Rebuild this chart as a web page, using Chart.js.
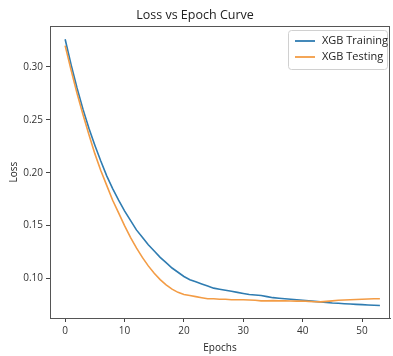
<!DOCTYPE html>
<html>
<head>
<meta charset="utf-8">
<script src="https://cdn.jsdelivr.net/npm/chart.js@4.4.1/dist/chart.umd.min.js"></script>
<style>
html,body{margin:0;padding:0;background:#fff;}
#wrap{width:393px;height:356px;position:relative;}
</style>
</head>
<body>
<div id="wrap"><canvas id="c" width="393" height="356"></canvas></div>
<script>
const epochs = [0,1,2,3,4,5,6,7,8,9,10,11,12,13,14,15,16,17,18,19,20,21,22,23,24,25,26,27,28,29,30,31,32,33,34,35,36,37,38,39,40,41,42,43,44,45,46,47,48,49,50,51,52,53];
const trainLoss = [0.326,0.302,0.280,0.260,0.242,0.226,0.211,0.197,0.185,0.174,0.164,0.155,0.146,0.139,0.132,0.126,0.120,0.115,0.110,0.106,0.102,0.099,0.097,0.095,0.093,0.091,0.090,0.089,0.088,0.087,0.086,0.085,0.0845,0.084,0.083,0.082,0.0815,0.081,0.0805,0.080,0.0795,0.079,0.0785,0.078,0.0775,0.077,0.0767,0.0763,0.076,0.0757,0.0754,0.0751,0.0749,0.0746];
const testLoss = [0.320,0.297,0.275,0.255,0.236,0.218,0.202,0.188,0.174,0.162,0.150,0.139,0.129,0.120,0.112,0.105,0.099,0.094,0.090,0.087,0.085,0.084,0.083,0.082,0.081,0.081,0.0805,0.0805,0.080,0.080,0.080,0.0798,0.0795,0.079,0.079,0.0792,0.079,0.079,0.0788,0.0787,0.0788,0.0785,0.0782,0.078,0.0785,0.079,0.0795,0.0798,0.080,0.0802,0.0805,0.0807,0.081,0.081];
const yTicks = [0.10,0.15,0.20,0.25,0.30];
const xTicks = [0,10,20,30,40,50];
const seriesNames = ['XGB Training','XGB Testing'];
const seriesColors = ['#2f7cb1','#f39c45'];

const FONT = 'Open Sans';

const frame = {
  id:'frame',
  afterDatasetsDraw(chart){
    const a = chart.chartArea, ctx = chart.ctx;
    ctx.save();
    ctx.strokeStyle = '#555';
    ctx.lineWidth = 1;
    ctx.strokeRect(Math.round(a.left)+0.5, Math.round(a.top)+0.5, Math.round(a.right-a.left)-1, Math.round(a.bottom-a.top));
    ctx.restore();
  }
};

const innerLegend = {
  id:'innerLegend',
  afterDraw(chart){
    const ctx = chart.ctx, a = chart.chartArea;
    const ds = chart.data.datasets;
    const w = 99, h = 39;
    const x0 = a.right - w - 3, y0 = a.top + 4;
    ctx.save();
    ctx.beginPath();
    if (ctx.roundRect) ctx.roundRect(x0+0.5, y0+0.5, w, h, 3); else ctx.rect(x0+0.5,y0+0.5,w,h);
    ctx.fillStyle = 'rgba(255,255,255,0.85)';
    ctx.fill();
    ctx.strokeStyle = '#d0d0d0';
    ctx.lineWidth = 1;
    ctx.stroke();
    ctx.font = '11px "' + FONT + '"';
    ctx.textBaseline = 'middle';
    ds.forEach((d,i)=>{
      const yy = y0 + 11 + i*16;
      ctx.strokeStyle = d.borderColor;
      ctx.lineWidth = 1.8;
      ctx.beginPath();
      ctx.moveTo(x0+7, yy);
      ctx.lineTo(x0+27, yy);
      ctx.stroke();
      ctx.fillStyle = '#222';
      ctx.fillText(d.label, x0+34, yy);
    });
    ctx.restore();
  }
};

new Chart(document.getElementById('c'), {
  type:'line',
  data:{
    datasets:[
      {label:seriesNames[0], data:epochs.map((e,i)=>({x:e,y:trainLoss[i]})), borderColor:seriesColors[0], backgroundColor:seriesColors[0], borderWidth:1.6, pointRadius:0, tension:0, order:1},
      {label:seriesNames[1], data:epochs.map((e,i)=>({x:e,y:testLoss[i]})), borderColor:seriesColors[1], backgroundColor:seriesColors[1], borderWidth:1.6, pointRadius:0, tension:0, order:0}
    ]
  },
  options:{
    responsive:false,
    animation:false,
    devicePixelRatio:1,
    layout:{padding:{left:0,right:3,top:0,bottom:0}},
    plugins:{
      legend:{display:false},
      tooltip:{enabled:false},
      title:{display:true,text:'Loss vs Epoch Curve',color:'#222',font:{family:FONT,size:12.5,weight:'normal'},padding:{top:8,bottom:3}}
    },
    scales:{
      x:{
        type:'linear', min:-2.55, max:54.7,
        afterBuildTicks(s){ s.ticks = xTicks.map(v=>({value:v})); },
        afterFit(s){ s.height = 38; },
        grid:{drawOnChartArea:false, drawTicks:true, tickLength:4, color:'#444'},
        border:{display:true,color:'#555'},
        ticks:{color:'#333',font:{family:FONT,size:10},padding:3,maxRotation:0,callback:v=>String(v)},
        title:{display:true,text:'Epochs',color:'#222',font:{family:FONT,size:10},padding:{top:0,bottom:2}}
      },
      y:{
        type:'linear', min:0.0628, max:0.3385,
        afterBuildTicks(s){ s.ticks = yTicks.map(v=>({value:v})); },
        afterFit(s){ s.width = 50; },
        grid:{drawOnChartArea:false, drawTicks:true, tickLength:4, color:'#444'},
        border:{display:true,color:'#555'},
        ticks:{color:'#333',font:{family:FONT,size:10},padding:3,callback:v=>v.toFixed(2)},
        title:{display:true,text:'Loss',color:'#222',font:{family:FONT,size:10},padding:{top:8,bottom:0}}
      }
    }
  },
  plugins:[frame, innerLegend]
});
</script>
</body>
</html>
